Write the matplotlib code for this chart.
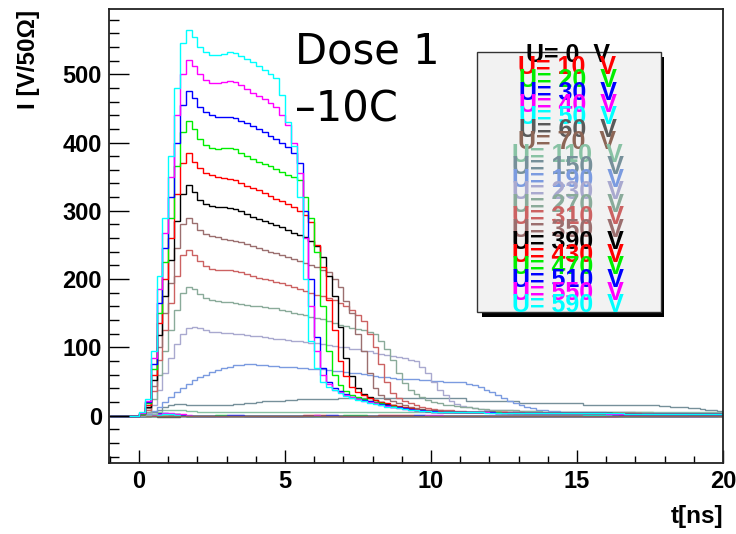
import numpy as np
import matplotlib
matplotlib.use("Agg")
import matplotlib.pyplot as plt
from matplotlib.patches import Rectangle

# ---------------- data ----------------
t_start = -1.0
bin_width = 0.2
n_bins = 105

voltages = [0, 10, 20, 30, 40, 50, 60, 70, 110, 150, 190, 230, 270, 310, 350,
            390, 430, 470, 510, 550, 590]

colors = ['#000000', '#ff0000', '#00ee00', '#0000ff', '#ff00ff', '#00ffff',
          '#5a5a5a', '#8c6656', '#88c2a4', '#76909a', '#7b9be0', '#a9a9cf',
          '#8aab9a', '#cc6262', '#9b6f6f', '#000000', '#ff0000', '#00ee00',
          '#0000ff', '#ff00ff', '#00ffff']

I_0V = [0, 0, 0, 0, 0,
        0, 0, 0, -1, -1, -1, -1, 0, 0, 0,
        0, 0, 0, 0, 0, 0, 0, 0, 0, 0,
        0, 0, 0, 0, 0, 0, 0, 0, 0, 0,
        0, 0, 0, 0, 0, 0, 0, 0, 0, 0,
        0, 0, 0, 0, 0, 0, 0, 0, 0, 0,
        0, 0, 0, 0, 0, 0, 0, 0, 0, 0,
        0, 0, 0, 0, 0, 0, 0, 0, 0, 0,
        0, 0, 0, 0, 0, 0, 0, 0, 0, 0,
        0, 0, 0, 0, 0, 0, 0, 0, 0, 0,
        0, 0, 0, 0, 0, 0, 0, 0, 0, 0]
I_10V = [0, 0, 0, 0, 0,
         0, 0, 1, 2, 2, 2, 1, 1, 0, 0,
         0, 0, 0, 0, 0, 0, 0, 0, 0, 0,
         0, 0, 0, 0, 0, 0, 0, 0, 1, 1,
         1, 1, 0, 0, 0, 0, 0, 0, 0, 0,
         0, 1, 1, 1, 1, 1, 1, 0, 0, 0,
         0, 0, 0, 0, 0, 0, 0, 0, 0, 0,
         0, 0, 0, 0, 0, 0, 0, 0, 0, 0,
         0, 0, 0, 0, 0, 0, 0, 0, 0, 0,
         0, 0, 0, 0, 0, 0, 0, 0, 0, 0,
         0, 0, 0, 0, 0, 0, 1, 1, 1, 0]
I_20V = [0, 0, 0, 0, 0,
         0, 0, 1, 3, 3, 3, 2, 1, 0, 0,
         0, 0, 0, 1, 1, 0, 0, 0, 0, 0,
         0, 0, 0, 0, 0, 0, 0, 0, 0, 0,
         0, 0, 0, 0, 0, 1, 1, 1, 1, 0,
         0, 0, 0, 0, 0, 0, 0, 0, 0, 0,
         0, 0, 0, 0, 0, 0, 0, 0, 0, 0,
         0, 0, 0, 0, 0, 0, 0, 0, 0, 0,
         0, 0, 0, 0, 0, 0, 0, 0, 0, 0,
         0, 0, 0, 0, 0, 0, 0, 0, 0, 0,
         0, 0, 0, 0, 1, 1, 0, 0, 0, 0]
I_30V = [0, 0, 0, 0, 0,
         0, 1, 2, 4, 4, 3, 2, 1, 0, 0,
         0, 0, 0, 0, 0, 1, 1, 1, 0, 0,
         0, 0, 0, 0, 0, 0, 0, 0, 0, 0,
         0, 0, 1, 1, 0, 0, 0, 0, 0, 0,
         0, 0, 0, 0, 0, 0, 0, 1, 1, 0,
         0, 0, 0, 0, 0, 0, 0, 0, 0, 0,
         0, 0, 0, 0, 0, 0, 0, 0, 0, 0,
         0, 0, 0, 0, 0, 0, 0, 0, 0, 0,
         0, 0, 0, 0, 0, 0, 0, 0, 0, 0,
         0, 0, 0, 0, 0, 0, 0, 0, 0, 1]
I_40V = [0, 0, 0, 0, 0,
         0, 0, 1, 3, 4, 4, 3, 2, 1, 0,
         0, 0, 0, 0, 0, 0, 0, 0, 0, 0,
         0, 0, 0, 0, 0, 0, 0, 0, 0, 0,
         1, 0, 0, 0, 0, 0, 0, 0, 0, 0,
         0, 0, 0, 0, 0, 0, 0, 0, 0, 1,
         1, 1, 0, 0, 0, 0, 0, 0, 0, 0,
         0, 0, 0, 0, 0, 0, 0, 0, 0, 0,
         0, 0, 0, 0, 0, 0, 0, 0, 0, 0,
         0, 0, 1, 1, 1, 1, 1, 0, 0, 0,
         0, 0, 0, 0, 0, 0, 0, 0, 0, 0]
I_50V = [0, 0, 0, 0, 0,
         0, 0, 0, 1, 2, 2, 1, 0, 0, 0,
         0, 0, 0, 0, 0, 0, 0, 0, 0, 0,
         0, 0, 0, 0, 0, 0, 0, 0, 0, 0,
         0, 0, 0, 0, 0, 0, 0, 0, 0, 0,
         0, 0, 0, 0, 0, 0, 0, 0, 0, 0,
         0, 0, 0, 0, 0, 0, 0, 0, 0, 0,
         0, 0, 0, 0, 0, 0, 0, 0, 0, 0,
         0, 0, 0, 0, 0, 0, 1, 1, 1, 1,
         1, 1, 0, 0, 0, 0, 0, 0, 0, 0,
         0, 0, 0, 0, 0, 0, 0, 0, 0, 0]
I_60V = [0, 0, 0, 0, 0,
         0, 0, -1, -2, -2, -2, -2, -1, 0, 0,
         0, 0, 0, 0, 0, 0, 0, 0, 0, 0,
         0, 0, 0, 0, 0, 0, 0, 0, 0, 0,
         0, 0, 0, 0, 0, 0, 0, 0, 0, 0,
         0, 0, 0, 0, 0, 0, 0, 0, 0, 0,
         0, 0, 0, 0, 0, 0, 0, 0, 0, 0,
         0, 0, 0, 0, 0, 0, 0, 0, 0, 0,
         0, 0, 0, 0, 0, 0, 0, 0, 0, 0,
         0, 0, 0, 0, 0, 0, 0, 0, 0, 0,
         0, 0, 0, 0, 0, 0, 0, 0, 0, 0]
I_70V = [0, 0, 0, 0, 0,
         0, 0, 0, 0, 0, 0, 0, 0, 0, 0,
         0, 0, 0, 0, 0, 0, 0, 0, 0, 0,
         0, 0, 0, 0, 0, 0, 0, 0, 0, 0,
         0, 0, 0, 0, 0, 0, 0, 0, 0, 0,
         0, 0, 0, 0, 0, 0, 0, 0, 0, 0,
         0, 0, 0, 0, 0, 0, 0, 0, 0, 0,
         0, 0, 0, 0, 0, 0, 0, 0, 0, 0,
         0, 0, 0, 0, 0, 0, 0, 0, 0, 0,
         0, 0, 0, 0, 0, 0, 0, 0, 0, 0,
         0, 0, 0, 0, 0, 0, 0, 0, 0, 0]
I_110V = [0, 0, 0, 0, 0,
          0, 1, 3, 6, 8, 9, 9, 8, 7, 7,
          6, 6, 6, 6, 6, 6, 6, 6, 6, 6,
          6, 6, 6, 6, 6, 6, 6, 6, 6, 6,
          6, 6, 6, 6, 6, 6, 6, 6, 6, 6,
          6, 6, 6, 6, 6, 6, 6, 6, 6, 6,
          6, 6, 6, 6, 6, 6, 6, 6, 6, 6,
          6, 6, 6, 6, 6, 6, 6, 6, 6, 6,
          5, 5, 5, 5, 5, 5, 5, 5, 5, 5,
          5, 5, 5, 5, 5, 5, 5, 5, 5, 5,
          5, 5, 5, 5, 5, 5, 5, 5, 5, 5]
I_150V = [0, 0, 0, 0, 0,
          0, 2, 5, 9, 13, 16, 17, 17, 16, 15,
          15, 15, 15, 15, 16, 16, 17, 17, 18, 19,
          20, 21, 21, 22, 22, 23, 23, 24, 24, 25,
          25, 25, 25, 25, 26, 26, 26, 26, 26, 26,
          26, 26, 26, 26, 26, 26, 26, 26, 26, 26,
          26, 26, 26, 26, 26, 26, 22, 22, 22, 22,
          22, 22, 22, 22, 22, 19, 19, 19, 19, 19,
          19, 19, 19, 19, 19, 19, 16, 16, 16, 16,
          16, 16, 16, 16, 16, 16, 16, 16, 16, 14,
          14, 13, 13, 12, 11, 11, 10, 9, 8, 7]
I_190V = [0, 0, 0, 0, 0,
          1, 3, 7, 13, 20, 27, 34, 41, 47, 52,
          56, 60, 64, 67, 70, 72, 74, 74, 75, 75,
          74, 74, 73, 73, 72, 72, 71, 70, 70, 69,
          69, 68, 67, 66, 65, 64, 63, 62, 61, 60,
          58, 57, 56, 55, 54, 54, 53, 53, 52, 52,
          51, 51, 50, 50, 50, 49, 47, 45, 42, 38,
          35, 30, 26, 22, 19, 16, 13, 11, 9, 8,
          7, 7, 6, 6, 6, 5, 5, 5, 5, 5,
          4, 4, 4, 4, 4, 4, 4, 4, 4, 4,
          4, 4, 4, 4, 3, 3, 3, 3, 3, 3]
I_230V = [0, 0, 0, 0, 0,
          1, 4, 15, 38, 62, 85, 105, 120, 128, 130,
          128, 125, 123, 122, 121, 121, 120, 119, 118, 117,
          116, 115, 114, 113, 112, 111, 110, 109, 108, 107,
          106, 105, 104, 102, 101, 100, 98, 97, 95, 94,
          92, 91, 89, 87, 86, 84, 82, 80, 72, 62,
          50, 38, 30, 21, 17, 14, 12, 11, 10, 9,
          9, 8, 8, 8, 7, 7, 7, 7, 6, 6,
          6, 6, 6, 6, 5, 5, 5, 5, 5, 5,
          5, 5, 5, 5, 5, 4, 4, 4, 4, 4,
          4, 4, 4, 4, 4, 4, 4, 4, 4, 4]
I_270V = [0, 0, 0, 0, 0,
          1, 6, 25, 60, 95, 125, 155, 180, 189, 185,
          178, 173, 170, 168, 167, 166, 165, 164, 162, 161,
          160, 159, 158, 157, 155, 153, 151, 149, 147, 145,
          143, 141, 139, 136, 133, 131, 129, 127, 125, 122,
          120, 110, 98, 81, 62, 48, 38, 32, 27, 23,
          20, 18, 16, 15, 14, 13, 12, 11, 10, 10,
          9, 9, 8, 8, 8, 7, 7, 7, 7, 6,
          6, 6, 6, 6, 6, 6, 5, 5, 5, 5,
          5, 5, 5, 5, 5, 5, 5, 5, 4, 4,
          4, 4, 4, 4, 4, 4, 4, 4, 4, 4]
I_310V = [0, 0, 0, 0, 0,
          2, 9, 36, 82, 125, 165, 205, 235, 243, 236,
          226, 219, 215, 214, 213, 213, 212, 210, 207, 204,
          202, 200, 198, 196, 194, 192, 189, 186, 183, 180,
          177, 175, 172, 169, 165, 161, 155, 147, 138, 120,
          100, 75, 50, 33, 26, 21, 18, 15, 13, 11,
          10, 9, 8, 8, 7, 7, 6, 6, 6, 6,
          5, 5, 5, 5, 5, 5, 4, 4, 4, 4,
          4, 4, 4, 4, 4, 4, 4, 4, 4, 4,
          4, 4, 4, 4, 4, 4, 3, 3, 3, 3,
          3, 3, 3, 3, 3, 3, 3, 3, 3, 3]
I_350V = [0, 0, 0, 0, 0,
          2, 11, 44, 100, 150, 195, 245, 280, 290, 282,
          272, 266, 263, 261, 259, 257, 256, 254, 251, 248,
          245, 243, 240, 238, 235, 232, 229, 226, 223, 220,
          217, 214, 210, 200, 188, 168, 150, 120, 95, 62,
          40, 30, 25, 21, 18, 15, 13, 11, 10, 9,
          8, 8, 7, 7, 6, 6, 6, 6, 5, 5,
          5, 5, 5, 5, 4, 4, 4, 4, 4, 4,
          4, 4, 4, 4, 4, 4, 4, 4, 4, 4,
          4, 4, 4, 4, 4, 3, 3, 3, 3, 3,
          3, 3, 3, 3, 3, 3, 3, 3, 3, 3]
I_390V = [0, 0, 0, 0, 0,
          3, 13, 52, 118, 175, 228, 285, 325, 338, 328,
          316, 310, 307, 305, 305, 304, 302, 299, 295, 291,
          288, 285, 282, 279, 276, 272, 268, 265, 262, 256,
          248, 232, 205, 175, 130, 85, 58, 40, 32, 27,
          23, 20, 17, 15, 13, 11, 10, 9, 8, 7,
          6, 6, 6, 6, 5, 5, 5, 5, 5, 5,
          5, 4, 4, 4, 4, 4, 4, 4, 4, 4,
          4, 4, 4, 4, 4, 4, 4, 4, 4, 4,
          4, 3, 3, 3, 3, 3, 3, 3, 3, 3,
          3, 3, 3, 3, 3, 3, 3, 3, 3, 3]
I_430V = [0, 0, 0, 0, 0,
          3, 15, 60, 135, 200, 260, 325, 370, 384, 372,
          362, 356, 352, 350, 348, 347, 345, 341, 337, 333,
          330, 326, 322, 318, 314, 310, 305, 300, 294, 283,
          250, 218, 170, 125, 80, 58, 42, 35, 30, 26,
          23, 20, 18, 16, 14, 12, 11, 10, 9, 8,
          7, 7, 6, 6, 6, 6, 5, 5, 5, 5,
          5, 5, 5, 4, 4, 4, 4, 4, 4, 4,
          4, 4, 4, 4, 4, 4, 4, 4, 4, 4,
          4, 4, 4, 3, 3, 3, 3, 3, 3, 3,
          3, 3, 3, 3, 3, 3, 3, 3, 3, 3]
I_470V = [0, 0, 0, 0, 0,
          3, 18, 68, 150, 225, 290, 365, 415, 431, 420,
          405, 396, 392, 391, 392, 392, 390, 385, 380, 376,
          372, 368, 365, 361, 357, 353, 350, 345, 320, 290,
          240, 160, 95, 60, 45, 36, 31, 27, 24, 22,
          20, 18, 16, 14, 12, 11, 10, 9, 8, 7,
          7, 6, 6, 6, 6, 5, 5, 5, 5, 5,
          5, 5, 4, 4, 4, 4, 4, 4, 4, 4,
          4, 4, 4, 4, 4, 4, 4, 4, 4, 4,
          4, 4, 3, 3, 3, 3, 3, 3, 3, 3,
          3, 3, 3, 3, 3, 3, 3, 3, 3, 3]
I_510V = [0, 0, 0, 0, 0,
          4, 20, 75, 165, 245, 320, 400, 455, 476, 465,
          452, 444, 440, 438, 438, 438, 436, 432, 428, 424,
          420, 415, 410, 405, 400, 393, 385, 370, 300, 200,
          115, 70, 50, 41, 36, 32, 28, 25, 23, 21,
          19, 17, 15, 13, 12, 11, 10, 9, 8, 7,
          7, 6, 6, 6, 5, 5, 5, 5, 5, 5,
          5, 4, 4, 4, 4, 4, 4, 4, 4, 4,
          4, 4, 4, 4, 4, 4, 4, 4, 4, 4,
          4, 3, 3, 3, 3, 3, 3, 3, 3, 3,
          3, 3, 3, 3, 3, 3, 3, 3, 3, 3]
I_550V = [0, 0, 0, 0, 0,
          4, 22, 85, 185, 268, 350, 440, 500, 521, 512,
          500, 492, 487, 487, 489, 490, 488, 484, 478, 473,
          468, 463, 458, 452, 440, 425, 400, 355, 260, 160,
          95, 60, 46, 38, 34, 30, 27, 24, 22, 20,
          18, 16, 14, 12, 11, 10, 9, 8, 7, 7,
          6, 6, 6, 5, 5, 5, 5, 5, 5, 5,
          4, 4, 4, 4, 4, 4, 4, 4, 4, 4,
          4, 4, 4, 4, 4, 4, 4, 4, 4, 4,
          3, 3, 3, 3, 3, 3, 3, 3, 3, 3,
          3, 3, 3, 3, 3, 3, 3, 3, 3, 3]
I_590V = [0, 0, 0, 0, 0,
          5, 25, 95, 205, 290, 380, 480, 545, 565, 555,
          540, 532, 528, 528, 530, 532, 531, 527, 523, 518,
          512, 506, 500, 494, 470, 430, 395, 320, 200, 110,
          70, 50, 42, 37, 33, 29, 26, 23, 21, 19,
          17, 15, 13, 12, 11, 10, 9, 8, 7, 7,
          6, 6, 6, 5, 5, 5, 5, 5, 5, 4,
          4, 4, 4, 4, 4, 4, 4, 4, 4, 4,
          4, 4, 4, 4, 4, 4, 4, 4, 4, 4,
          4, 4, 4, 3, 3, 3, 3, 3, 3, 3,
          3, 3, 3, 3, 3, 3, 3, 3, 3, 3]

currents = [I_0V, I_10V, I_20V, I_30V, I_40V, I_50V, I_60V, I_70V, I_110V,
            I_150V, I_190V, I_230V, I_270V, I_310V, I_350V, I_390V, I_430V,
            I_470V, I_510V, I_550V, I_590V]

x_ticks = [0, 5, 10, 15, 20]
y_ticks = [0, 100, 200, 300, 400, 500]

# ---------------- figure ----------------
W, H = 736, 534
fig = plt.figure(figsize=(W / 100, H / 100), dpi=100)
ax = fig.add_axes([109 / W, 1 - 463 / H, (723 - 109) / W, (463 - 9) / H])

edges = t_start + bin_width * np.arange(n_bins + 1)
for vals, col in zip(currents, colors):
    ax.stairs(np.asarray(vals, float), edges, baseline=None, color=col, lw=1.0)

ax.set_xlim(-1.03, 20)
ax.set_ylim(-69.3, 595.5)

tick_font = dict(family='Liberation Sans', weight='bold', size=17)
ax.set_xticks(x_ticks)
ax.set_xticklabels([str(v) for v in x_ticks], **tick_font)
ax.set_yticks(y_ticks)
ax.set_yticklabels([str(v) for v in y_ticks], **tick_font)
ax.set_xticks(np.arange(-1, 21, 1), minor=True)
ax.set_yticks(np.arange(-60, 600, 20), minor=True)
ax.tick_params(axis='y', which='major', direction='in', length=14.5, width=1.0, pad=5)
ax.tick_params(axis='y', which='minor', direction='in', length=7.5, width=1.0)
ax.tick_params(axis='x', which='major', direction='in', length=9.5, width=1.0, pad=5)
ax.tick_params(axis='x', which='minor', direction='in', length=5, width=1.0)
for s in ax.spines.values():
    s.set_linewidth(1.3)
    s.set_color('#222222')

fig.text(723 / W, 1 - 516 / H, 't[ns]', ha='right', va='center',
         family='Liberation Sans', weight='bold', size=17.5)
fig.text(28 / W, 1 - 10 / H, 'I [V/50\u03a9]', ha='center', va='top', rotation=90,
         family='Liberation Sans', weight='bold', size=17.5)

fig.text(295 / W, 1 - 63 / H, 'Dose 1', ha='left', va='baseline',
         family='DejaVu Sans', size=30)
fig.text(295 / W, 1 - 121 / H, '\u201310C', ha='left', va='baseline',
         family='DejaVu Sans', size=30)

# legend box with shadow
shadow = Rectangle((482 / W, 1 - 317 / H), (664 - 482) / W, (317 - 57) / H,
                   transform=fig.transFigure, facecolor='black', edgecolor='none')
box = Rectangle((477 / W, 1 - 312 / H), (661 - 477) / W, (312 - 52) / H,
                transform=fig.transFigure, facecolor='#f2f2f2',
                edgecolor='#333333', lw=1.0)
fig.patches.extend([shadow, box])
for k, (v, col) in enumerate(zip(voltages, colors)):
    yc = 55 + 12.5 * k
    fig.text(567.5 / W, 1 - yc / H, f'U= {v}  V', ha='center', va='center',
             color=col, family='Liberation Sans', weight='bold', size=18)

fig.savefig('out.png', dpi=100)
